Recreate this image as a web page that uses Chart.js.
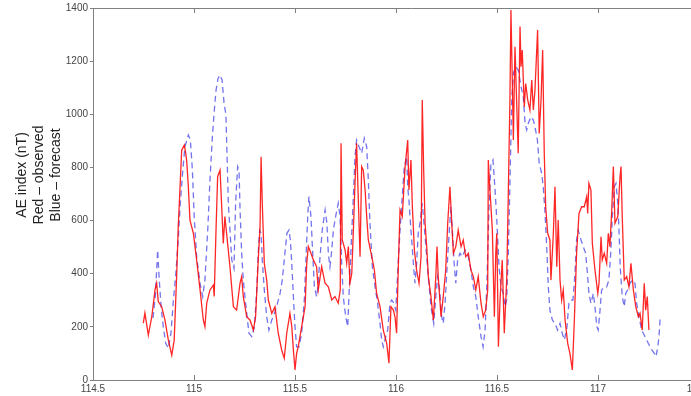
<!DOCTYPE html>
<html>
<head>
<meta charset="utf-8">
<title>AE index</title>
<script src="https://cdn.jsdelivr.net/npm/chart.js@4.4.1/dist/chart.umd.min.js"></script>
<style>
    html, body { margin: 0; padding: 0; background: #fff; overflow: hidden; }
    #wrap { position: relative; width: 730px; height: 396px; }
</style>
</head>
<body>
<div id="wrap"><canvas id="aeChart" width="730" height="396"></canvas></div>
<script>
// Observed AE (red)
const obsTime = [
    114.749,114.757,114.774,114.791,114.807,114.815,114.823,114.840,114.856,114.873,
    114.890,114.902,114.914,114.922,114.931,114.939,114.952,114.959,114.964,114.972,
    114.980,114.997,115.013,115.030,115.046,115.054,115.063,115.079,115.096,115.100,
    115.109,115.117,115.129,115.140,115.145,115.153,115.178,115.195,115.211,115.228,
    115.236,115.244,115.261,115.277,115.294,115.305,115.318,115.327,115.332,115.338,
    115.348,115.360,115.368,115.385,115.401,115.417,115.434,115.447,115.459,115.475,
    115.484,115.492,115.500,115.508,115.516,115.533,115.550,115.558,115.566,115.579,
    115.591,115.607,115.615,115.632,115.649,115.665,115.682,115.698,115.714,115.724,
    115.728,115.734,115.748,115.756,115.764,115.772,115.781,115.789,115.797,115.805,
    115.813,115.822,115.830,115.838,115.847,115.855,115.863,115.880,115.893,115.904,
    115.921,115.937,115.954,115.965,115.975,115.987,115.995,116.003,116.011,116.020,
    116.031,116.045,116.058,116.064,116.074,116.081,116.091,116.102,116.114,116.124,
    116.130,116.137,116.144,116.152,116.160,116.173,116.185,116.197,116.203,116.209,
    116.223,116.234,116.246,116.256,116.267,116.276,116.284,116.296,116.308,116.322,
    116.333,116.345,116.358,116.371,116.383,116.395,116.407,116.421,116.432,116.444,
    116.454,116.457,116.465,116.477,116.487,116.494,116.499,116.507,116.515,116.526,
    116.536,116.548,116.556,116.564,116.569,116.576,116.581,116.589,116.597,116.605,
    116.614,116.619,116.625,116.635,116.642,116.652,116.663,116.672,116.680,116.688,
    116.701,116.709,116.718,116.726,116.734,116.741,116.751,116.762,116.767,116.779,
    116.787,116.796,116.803,116.812,116.820,116.828,116.837,116.850,116.861,116.873,
    116.883,116.894,116.906,116.919,116.932,116.944,116.949,116.955,116.965,116.972,
    116.985,116.999,117.005,117.015,117.021,117.031,117.043,117.051,117.059,117.068,
    117.076,117.084,117.098,117.109,117.114,117.120,117.130,117.142,117.153,117.163,
    117.175,117.187,117.200,117.208,117.219,117.229,117.236,117.244,117.252
];
const obsAE = [
    214,252,169,238,339,365,295,276,226,150,
    94,150,389,577,727,865,884,854,822,727,
    602,552,452,339,226,201,289,339,357,314,
    564,765,790,602,514,615,426,276,263,365,
    389,314,238,226,188,238,452,577,840,665,
    439,376,301,251,276,176,113,82,176,251,
    201,113,38,100,125,201,276,439,502,477,
    452,426,339,426,364,351,301,314,289,339,
    891,527,489,439,502,364,401,564,740,891,
    690,464,803,790,715,615,527,464,414,326,
    276,188,138,63,276,263,238,176,414,640,
    615,803,903,715,828,652,489,414,364,464,
    1054,790,590,502,389,314,226,389,502,389,
    238,314,414,590,727,590,477,502,564,502,
    527,464,477,414,389,339,389,289,238,263,
    339,828,715,564,238,480,552,125,301,452,
    176,376,703,1054,1392,1116,903,1254,1054,853,
    1330,1179,1242,1028,1116,1054,1016,1129,1016,1091,
    1317,928,1054,1242,853,652,552,527,376,552,
    727,426,602,376,301,339,226,138,100,38,
    226,477,627,652,652,690,627,740,715,514,
    414,326,364,539,452,477,439,552,502,640,
    803,590,615,765,803,615,376,389,351,439,
    339,276,238,251,188,364,263,314,188
];

// Forecast AE (blue, dashed)
const fcTime = [
    114.797,114.809,114.820,114.827,114.837,114.848,114.860,114.873,114.886,114.898,
    114.909,114.922,114.931,114.942,114.955,114.972,114.982,114.992,115.001,115.013,
    115.030,115.043,115.054,115.068,115.079,115.091,115.099,115.109,115.119,115.129,
    115.139,115.149,115.158,115.170,115.187,115.198,115.206,115.216,115.223,115.228,
    115.236,115.244,115.252,115.261,115.272,115.286,115.299,115.310,115.318,115.325,
    115.332,115.338,115.348,115.360,115.371,115.385,115.398,115.409,115.426,115.437,
    115.450,115.460,115.470,115.477,115.484,115.492,115.500,115.508,115.520,115.533,
    115.546,115.554,115.563,115.569,115.579,115.586,115.596,115.607,115.612,115.624,
    115.635,115.649,115.658,115.665,115.673,115.682,115.690,115.701,115.714,115.723,
    115.731,115.739,115.751,115.761,115.767,115.777,115.789,115.797,115.805,115.817,
    115.830,115.843,115.855,115.863,115.871,115.883,115.896,115.909,115.921,115.929,
    115.937,115.949,115.959,115.970,115.979,115.989,115.999,116.008,116.020,116.031,
    116.041,116.053,116.058,116.064,116.074,116.086,116.094,116.102,116.110,116.119,
    116.130,116.140,116.152,116.160,116.173,116.187,116.197,116.206,116.216,116.226,
    116.234,116.243,116.254,116.264,116.272,116.279,116.289,116.296,116.305,116.317,
    116.328,116.342,116.358,116.371,116.383,116.395,116.407,116.421,116.431,116.441,
    116.450,116.460,116.470,116.480,116.490,116.499,116.510,116.520,116.531,116.540,
    116.548,116.556,116.564,116.573,116.581,116.593,116.605,116.619,116.630,116.639,
    116.647,116.655,116.668,116.680,116.688,116.700,116.709,116.721,116.729,116.738,
    116.746,116.754,116.762,116.774,116.787,116.800,116.812,116.823,116.833,116.845,
    116.856,116.866,116.876,116.886,116.894,116.902,116.916,116.927,116.939,116.949,
    116.955,116.965,116.977,116.985,116.994,117.001,117.010,117.018,117.031,117.043,
    117.054,117.064,117.071,117.081,117.089,117.098,117.104,117.110,117.120,117.130,
    117.137,117.147,117.158,117.170,117.183,117.191,117.203,117.216,117.233,117.249,
    117.266,117.279,117.287,117.296,117.302,117.308
];
const fcAE = [
    233,320,489,389,276,201,138,119,176,301,
    389,527,652,765,878,922,903,790,615,464,
    364,314,376,564,752,916,1000,1090,1135,1148,
    1129,1040,1000,665,452,420,665,803,790,640,
    477,376,314,251,176,163,201,326,477,564,
    552,452,339,238,188,226,251,276,326,376,
    477,552,564,527,439,314,201,125,125,176,
    301,452,615,690,615,502,351,314,339,464,
    564,640,590,477,426,489,564,615,665,615,
    439,314,238,201,314,489,690,840,903,878,
    853,910,878,752,590,426,351,289,213,151,
    125,163,188,289,301,289,263,401,564,690,
    803,840,727,677,564,439,364,439,552,590,
    665,577,464,389,276,213,314,389,339,238,
    213,289,439,564,652,564,426,364,452,477,
    464,489,464,414,351,314,238,163,125,188,
    364,640,815,828,720,602,426,351,326,276,
    301,477,740,1054,1154,1179,1167,1104,1066,966,
    941,966,991,978,953,903,815,778,727,627,
    502,351,263,226,213,188,213,176,151,188,
    289,301,301,401,527,564,527,502,477,389,
    326,289,326,276,201,188,263,339,351,351,
    376,489,615,727,740,665,564,426,314,276,
    326,339,364,376,364,289,238,188,163,138,
    113,100,88,125,163,238
];

const xTicks = [114.5, 115, 115.5, 116, 116.5, 117, 117.5];
const yTicks = [0, 200, 400, 600, 800, 1000, 1200, 1400];
const yTitle = ['AE index (nT)', 'Red \u2013 observed', 'Blue \u2013 forecast'];

const AXIS_GREY = '#808080';
const TICK_FONT = { family: "Arial, 'Liberation Sans', sans-serif", size: 10 };

const toPoints = (xs, ys) => xs.map((x, i) => ({ x: x, y: ys[i] }));

// matlab style box: top edge + inward tick marks, plus the rotated y label
const boxPlugin = {
    id: 'box',
    afterDraw(chart) {
        const { ctx, chartArea, scales } = chart;
        ctx.save();
        ctx.strokeStyle = AXIS_GREY;
        ctx.lineWidth = 1;
        ctx.beginPath();
        ctx.moveTo(chartArea.left, chartArea.top + 0.5);
        ctx.lineTo(chart.width, chartArea.top + 0.5);
        xTicks.forEach(v => {
            const px = Math.round(scales.x.getPixelForValue(v)) + 0.5;
            ctx.moveTo(px, chartArea.bottom);
            ctx.lineTo(px, chartArea.bottom - 5);
            ctx.moveTo(px, chartArea.top);
            ctx.lineTo(px, chartArea.top + 5);
        });
        ctx.stroke();

        ctx.fillStyle = '#222';
        ctx.font = "14px Arial, 'Liberation Sans', sans-serif";
        ctx.textAlign = 'center';
        ctx.textBaseline = 'middle';
        const lineX = [22, 39, 56];
        yTitle.forEach((txt, i) => {
            ctx.save();
            ctx.translate(lineX[i], 175);
            ctx.rotate(-Math.PI / 2);
            ctx.fillText(txt, 0, 0);
            ctx.restore();
        });
        ctx.restore();
    }
};

new Chart(document.getElementById('aeChart'), {
    type: 'line',
    data: {
        datasets: [
            {
                label: 'Observed',
                data: toPoints(obsTime, obsAE),
                borderColor: 'rgba(255, 0, 0, 0.85)',
                borderWidth: 1.3,
                pointRadius: 0,
                tension: 0,
                fill: false
            },
            {
                label: 'Forecast',
                data: toPoints(fcTime, fcAE),
                borderColor: 'rgba(55, 55, 230, 0.7)',
                borderWidth: 1.3,
                borderDash: [6, 4],
                pointRadius: 0,
                tension: 0,
                fill: false
            }
        ]
    },
    options: {
        responsive: false,
        animation: false,
        events: [],
        layout: { padding: { left: 0, top: 8, right: 31, bottom: 0 } },
        plugins: {
            legend: { display: false },
            tooltip: { enabled: false }
        },
        scales: {
            x: {
                type: 'linear',
                min: 114.5,
                max: 117.5,
                afterBuildTicks: scale => { scale.ticks = xTicks.map(v => ({ value: v })); },
                afterFit: scale => { scale.height = 16; },
                ticks: {
                    callback: v => String(v),
                    color: '#444',
                    font: TICK_FONT,
                    padding: 3,
                    maxRotation: 0,
                    autoSkip: false
                },
                grid: { display: true, drawOnChartArea: false, drawTicks: false, color: AXIS_GREY },
                border: { color: AXIS_GREY, width: 1 }
            },
            y: {
                min: 0,
                max: 1400,
                afterBuildTicks: scale => { scale.ticks = yTicks.map(v => ({ value: v })); },
                afterFit: scale => { scale.width = 93; },
                ticks: {
                    callback: v => String(v),
                    color: '#444',
                    font: TICK_FONT,
                    padding: 2
                },
                grid: { display: true, drawOnChartArea: false, tickLength: 3, color: AXIS_GREY },
                border: { color: AXIS_GREY, width: 1 }
            }
        }
    },
    plugins: [boxPlugin]
});
</script>
</body>
</html>
